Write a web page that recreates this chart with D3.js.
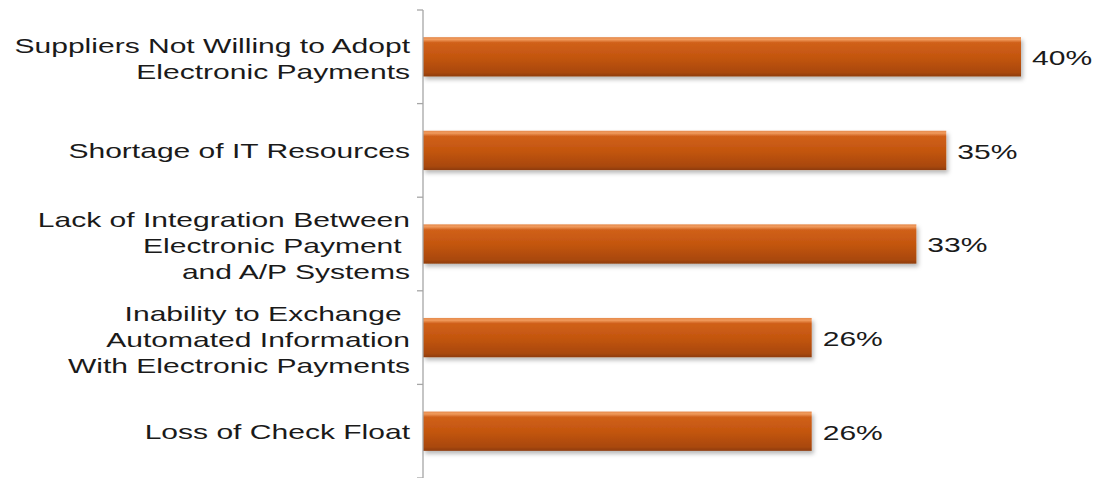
<!DOCTYPE html>
<html>
<head>
<meta charset="utf-8">
<script src="https://cdn.jsdelivr.net/npm/d3@7"></script>
<style>
  html, body { margin: 0; padding: 0; background: #fff; }
  svg { display: block; }
  text { font-family: "Liberation Sans", Arial, sans-serif; }
</style>
</head>
<body>
<svg id="chart" width="1103" height="478"></svg>
<script>
// Barriers to adopting electronic payments (share of respondents)
const categories = [
  ["Suppliers Not Willing to Adopt", "Electronic Payments"],
  ["Shortage of IT Resources"],
  ["Lack of Integration Between", "Electronic Payment ", "and A/P Systems"],
  ["Inability to Exchange ", "Automated Information", "With Electronic Payments"],
  ["Loss of Check Float"]
];
const values = [40, 35, 33, 26, 26];
const valueLabels = ["40%", "35%", "33%", "26%", "26%"];

const svg = d3.select("#chart");
const axisX = 423;
const stretch = 1.43; // wide lettering

const y = d3.scaleBand()
  .domain(d3.range(categories.length))
  .range([10, 478])
  .paddingInner(0.58)
  .paddingOuter(0.29);

const x = d3.scaleLinear()
  .domain([0, 40])
  .range([axisX, 1021]);

// bar gradient: lighter top edge, darker bottom
const defs = svg.append("defs");
const grad = defs.append("linearGradient")
  .attr("id", "barGrad").attr("x1", 0).attr("y1", 0).attr("x2", 0).attr("y2", 1);
[
  [0, "#e58a4c"], [0.06, "#f09a5c"], [0.14, "#d0601a"], [0.5, "#c4560f"],
  [0.9, "#a9480c"], [1, "#8e3c0a"]
].forEach(([o, c]) => grad.append("stop").attr("offset", o).attr("stop-color", c));

const shadow = defs.append("filter").attr("id", "barShadow")
  .attr("x", "-5%").attr("y", "-20%").attr("width", "110%").attr("height", "160%");
shadow.append("feDropShadow").attr("dx", 2).attr("dy", 3).attr("stdDeviation", 2)
  .attr("flood-color", "#000").attr("flood-opacity", 0.28);

// bars
svg.append("g").selectAll("rect")
  .data(values)
  .join("rect")
  .attr("x", axisX)
  .attr("y", (d, i) => y(i))
  .attr("width", d => x(d) - axisX)
  .attr("height", y.bandwidth())
  .attr("fill", "url(#barGrad)")
  .attr("filter", "url(#barShadow)");

// category axis with ticks between bands
const step = y.step();
const tickYs = d3.range(categories.length + 1).map(i => y.range()[0] + i * step);
const axisG = svg.append("g").attr("stroke", "#a6a6a6").attr("stroke-width", 1.3);
axisG.append("line")
  .attr("x1", axisX).attr("x2", axisX)
  .attr("y1", y.range()[0]).attr("y2", y.range()[1]);
axisG.selectAll("line.tick")
  .data(tickYs)
  .join("line")
  .attr("class", "tick")
  .attr("x1", axisX - 6).attr("x2", axisX)
  .attr("y1", d => d).attr("y2", d => d);

// category labels, right aligned
const lineH = 26;
const labels = svg.append("g")
  .attr("font-size", 21)
  .attr("fill", "#1a1a1a")
  .attr("text-anchor", "end");
categories.forEach((lines, i) => {
  const cy = y(i) + y.bandwidth() / 2 + (lines.length > 1 ? 2 : 0);
  const t = labels.append("text")
    .attr("transform", `translate(410,${cy - (lines.length - 1) * lineH / 2}) scale(${stretch},1)`)
    .attr("xml:space", "preserve");
  lines.forEach((ln, j) => {
    t.append("tspan")
      .attr("x", 0)
      .attr("dy", j === 0 ? "0.35em" : lineH)
      .text(ln);
  });
});

// value labels
svg.append("g")
  .attr("font-size", 21)
  .attr("fill", "#1a1a1a")
  .selectAll("text")
  .data(values)
  .join("text")
  .attr("transform", (d, i) => `translate(${x(d) + 11},${y(i) + y.bandwidth() / 2 + 1}) scale(${stretch},1)`)
  .attr("dy", "0.35em")
  .text((d, i) => valueLabels[i]);
</script>
</body>
</html>
